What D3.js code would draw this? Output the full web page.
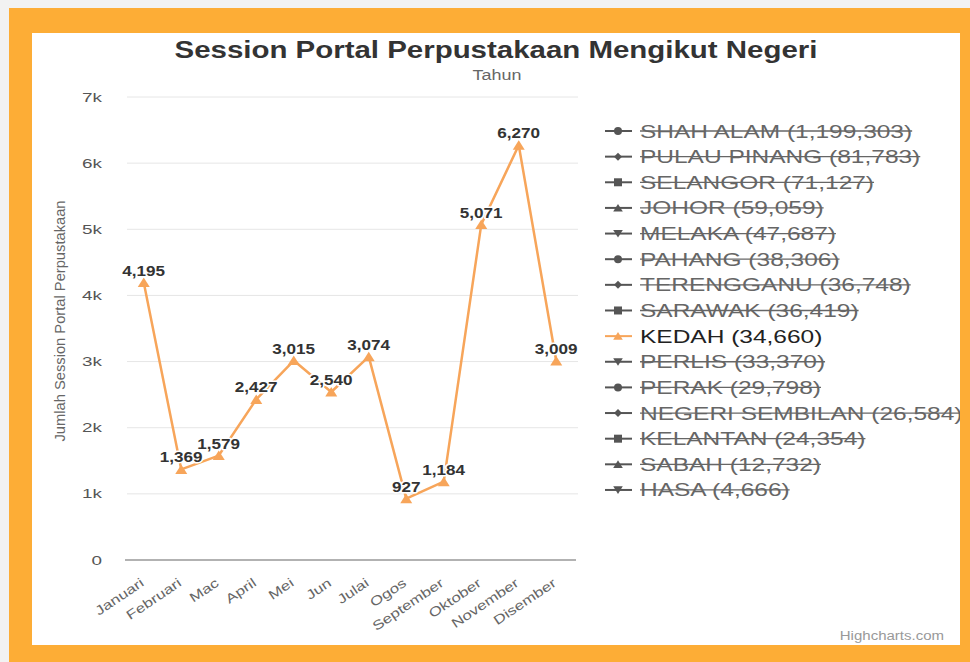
<!DOCTYPE html>
<html>
<head>
<meta charset="utf-8">
<script src="https://cdn.jsdelivr.net/npm/d3@7"></script>
<style>
  html, body { margin: 0; padding: 0; background: #f2f2f2; }
  svg { display: block; font-family: "Liberation Sans", Arial, sans-serif; }
</style>
</head>
<body>
<svg id="chart" width="970" height="662"></svg>
<script>
// Monthly sessions (KEDAH) and the per-state totals shown in the legend
const months = ["Januari", "Februari", "Mac", "April", "Mei", "Jun", "Julai",
  "Ogos", "September", "Oktober", "November", "Disember"];
const kedahSessions = [4195, 1369, 1579, 2427, 3015, 2540, 3074, 927, 1184, 5071, 6270, 3009];
const states = ["SHAH ALAM", "PULAU PINANG", "SELANGOR", "JOHOR", "MELAKA", "PAHANG",
  "TERENGGANU", "SARAWAK", "KEDAH", "PERLIS", "PERAK", "NEGERI SEMBILAN",
  "KELANTAN", "SABAH", "HASA"];
const stateTotals = [1199303, 81783, 71127, 59059, 47687, 38306, 36748, 36419,
  34660, 33370, 29798, 26584, 24354, 12732, 4666];
const visibleState = "KEDAH";
const yTickValues = [0, 1000, 2000, 3000, 4000, 5000, 6000, 7000];
const yTickLabels = ["0", "1k", "2k", "3k", "4k", "5k", "6k", "7k"];
const markerCycle = ["circle", "diamond", "square", "triangle", "triangle-down"];

const ORANGE = "#f7a55a";
const fmt = d3.format(",");
const svg = d3.select("#chart");

// widen text horizontally to the chart's wide lettering
function stretch(sel, k) {
  sel.each(function () {
    const L = this.getComputedTextLength();
    this.setAttribute("textLength", L * k);
    this.setAttribute("lengthAdjust", "spacingAndGlyphs");
  });
  return sel;
}

function markerPath(type, cx, cy, r) {
  switch (type) {
    case "circle":
      return `M${cx - r},${cy}a${r},${r} 0 1,0 ${2 * r},0a${r},${r} 0 1,0 ${-2 * r},0Z`;
    case "diamond":
      return `M${cx},${cy - r}L${cx + r},${cy}L${cx},${cy + r}L${cx - r},${cy}Z`;
    case "square":
      return `M${cx - r},${cy - r}h${2 * r}v${2 * r}h${-2 * r}Z`;
    case "triangle":
      return `M${cx},${cy - r}L${cx + r * 1.2},${cy + r * 0.9}L${cx - r * 1.2},${cy + r * 0.9}Z`;
    case "triangle-down":
      return `M${cx - r * 1.2},${cy - r * 0.9}L${cx + r * 1.2},${cy - r * 0.9}L${cx},${cy + r}Z`;
  }
}

// frame
svg.append("rect").attr("width", 970).attr("height", 662).attr("fill", "#f2f2f2");
svg.append("rect").attr("x", 9).attr("y", 8).attr("width", 961).attr("height", 654).attr("fill", "#fdad36");
svg.append("rect").attr("x", 32).attr("y", 33).attr("width", 928).attr("height", 612).attr("fill", "#ffffff");

svg.append("defs").append("clipPath").attr("id", "card")
  .append("rect").attr("x", 32).attr("y", 33).attr("width", 928).attr("height", 612);
const g = svg.append("g").attr("clip-path", "url(#card)");

// titles
stretch(g.append("text").attr("x", 496).attr("y", 58).attr("text-anchor", "middle")
  .attr("font-size", 23).attr("font-weight", "bold").attr("fill", "#333")
  .text("Session Portal Perpustakaan Mengikut Negeri"), 1.28);
stretch(g.append("text").attr("x", 497).attr("y", 80).attr("text-anchor", "middle")
  .attr("font-size", 14).attr("fill", "#666").text("Tahun"), 1.28);

// scales
const x = d3.scaleBand().domain(months).range([125, 575]);
const cx = d => x(d) + x.bandwidth() / 2;
const y = d3.scaleLinear().domain([0, 7000]).range([560, 97]);

// grid
g.append("g").selectAll("line").data(yTickValues.slice(1)).join("line")
  .attr("x1", 127).attr("x2", 578)
  .attr("y1", d => y(d)).attr("y2", d => y(d))
  .attr("stroke", "#e6e6e6").attr("stroke-width", 1);
g.append("line").attr("x1", 125).attr("x2", 576).attr("y1", y(0)).attr("y2", y(0))
  .attr("stroke", "#999").attr("stroke-width", 1.5);

// y tick labels
stretch(g.append("g").selectAll("text").data(yTickValues).join("text")
  .attr("x", 102).attr("y", d => y(d) + 4.5).attr("text-anchor", "end")
  .attr("font-size", 13).attr("fill", "#555")
  .text((d, i) => yTickLabels[i]), 1.45);

// y axis title
stretch(g.append("text").attr("transform", "translate(65,321) rotate(-90)")
  .attr("text-anchor", "middle").attr("font-size", 14).attr("fill", "#666")
  .text("Jumlah Session Portal Perpustakaan"), 1.05);

// x labels
stretch(g.append("g").selectAll("text").data(months).join("text")
  .attr("transform", d => `translate(${cx(d) + 1},585) rotate(-34)`)
  .attr("text-anchor", "end").attr("font-size", 13).attr("fill", "#666")
  .text(d => d), 1.3);

// series line
const pts = months.map((m, i) => ({ m, v: kedahSessions[i] }));
g.append("path").datum(pts)
  .attr("d", d3.line().x(d => cx(d.m)).y(d => y(d.v)))
  .attr("fill", "none").attr("stroke", ORANGE).attr("stroke-width", 2.5)
  .attr("stroke-linejoin", "round");
g.append("g").selectAll("path").data(pts).join("path")
  .attr("d", d => markerPath("triangle", cx(d.m), y(d.v), 5))
  .attr("fill", ORANGE);

// data labels
stretch(g.append("g").selectAll("text").data(pts).join("text")
  .attr("x", d => cx(d.m)).attr("y", d => y(d.v) - 7)
  .attr("text-anchor", "middle").attr("font-size", 14).attr("font-weight", "bold")
  .attr("fill", "#333").attr("stroke", "#fff").attr("stroke-width", 3)
  .attr("paint-order", "stroke").attr("stroke-linejoin", "round")
  .text(d => fmt(d.v)), 1.22);

// legend
const rowY = i => 131 + i * 25.64;
const leg = g.append("g").selectAll("g").data(states).join("g");
leg.each(function (s, i) {
  const item = d3.select(this);
  const on = s === visibleState;
  const col = on ? ORANGE : "#555";
  const yy = rowY(i);
  item.append("line").attr("x1", 605).attr("x2", 632).attr("y1", yy).attr("y2", yy)
    .attr("stroke", col).attr("stroke-width", 2);
  item.append("path").attr("d", markerPath(markerCycle[i % 5], 618, yy, 4)).attr("fill", col);
  const t = item.append("text").attr("x", 640).attr("y", yy + 6.5)
    .attr("font-size", 18).attr("fill", on ? "#222" : "#666")
    .text(`${s} (${fmt(stateTotals[i])})`);
  stretch(t, 1.36);
  if (!on) {
    const w = +t.attr("textLength");
    item.append("line").attr("x1", 640).attr("x2", 640 + w).attr("y1", yy).attr("y2", yy)
      .attr("stroke", "#666").attr("stroke-width", 1.3);
  }
});

// credit
stretch(g.append("text").attr("x", 944).attr("y", 640).attr("text-anchor", "end")
  .attr("font-size", 12).attr("fill", "#999").text("Highcharts.com"), 1.25);
</script>
</body>
</html>
